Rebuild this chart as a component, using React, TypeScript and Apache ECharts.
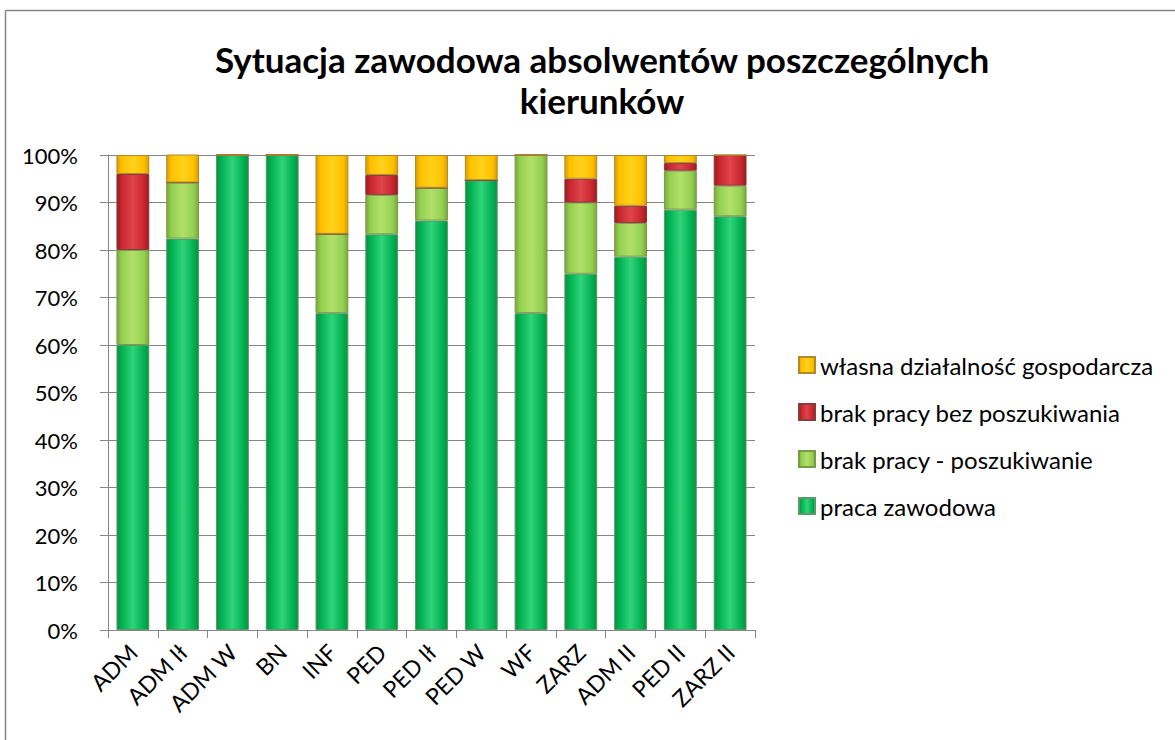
import React, { useEffect, useRef } from "react";
import * as echarts from "echarts";

const categories = ["ADM", "ADM Ił", "ADM W", "BN", "INF", "PED", "PED Ił", "PED W", "WF", "ZARZ", "ADM II", "PED II", "ZARZ II"];
const pracaZawodowa = [60, 82.4, 100, 100, 66.7, 83.3, 86.2, 94.7, 66.7, 75, 78.6, 88.5, 87.1];
const brakPoszukiwanie = [20, 11.8, 0, 0, 16.7, 8.3, 6.9, 0, 33.3, 15, 7.1, 8.2, 6.45];
const brakBezPoszukiwania = [16, 0, 0, 0, 0, 4.2, 0, 0, 0, 5, 3.6, 1.6, 6.45];
const wlasnaDzialalnosc = [4, 5.9, 0, 0, 16.6, 4.2, 6.9, 5.3, 0, 5, 10.7, 1.7, 0];
const yTicks = [0, 10, 20, 30, 40, 50, 60, 70, 80, 90, 100];

const FONT = "Lato, 'Open Sans', sans-serif";

function grad(light: string, mid: string, dark: string) {
  return new echarts.graphic.LinearGradient(0, 0, 1, 0, [
    { offset: 0, color: dark },
    { offset: 0.15, color: mid },
    { offset: 0.5, color: light },
    { offset: 0.85, color: mid },
    { offset: 1, color: dark },
  ]);
}

export default function App() {
  const ref = useRef<HTMLDivElement>(null);
  useEffect(() => {
    if (!ref.current) return;
    const chart = echarts.init(ref.current, null, { renderer: "svg" });
    const mk = (name: string, data: number[], color: any, border: string) => ({
      name,
      type: "bar",
      stack: "total",
      data,
      barCategoryGap: "34%",
      itemStyle: { color, borderColor: border, borderWidth: 1 },
    });
    chart.setOption({
      animation: false,
      backgroundColor: "#ffffff",
      title: {
        text: "Sytuacja zawodowa absolwentów poszczególnych\nkierunków",
        left: 597,
        textAlign: "center",
        top: 33,
        textStyle: { fontFamily: FONT, fontWeight: "bold", fontSize: 35, lineHeight: 41, color: "#000" },
      },
      graphic: [
        { type: "line", shape: { x1: 5.5, y1: 10.5, x2: 1175, y2: 10.5 }, style: { stroke: "#868686", lineWidth: 1.5 } },
        { type: "line", shape: { x1: 5.5, y1: 10.5, x2: 5.5, y2: 740 }, style: { stroke: "#868686", lineWidth: 1.5 } },
      ],
      legend: {
        orient: "vertical",
        left: 793,
        top: 348,
        itemGap: 23,
        itemWidth: 16,
        itemHeight: 16,
        icon: "rect",
        data: ["własna działalność gospodarcza", "brak pracy bez poszukiwania", "brak pracy - poszukiwanie", "praca zawodowa"],
        textStyle: { fontFamily: FONT, fontSize: 24, lineHeight: 24, color: "#000", padding: [0, 0, 0, 0] },
      },
      grid: { left: 108, right: 420, top: 155, bottom: 110 },
      xAxis: {
        type: "category",
        data: categories,
        axisLine: { lineStyle: { color: "#868686" } },
        axisTick: { show: true, length: 8, lineStyle: { color: "#868686" } },
        axisLabel: { rotate: 45, fontFamily: FONT, fontSize: 23, color: "#000", margin: 18, interval: 0 },
      },
      yAxis: {
        type: "value",
        min: 0,
        max: 100,
        interval: 10,
        axisLine: { show: true, lineStyle: { color: "#868686" } },
        axisTick: { show: true, length: 8, lineStyle: { color: "#868686" } },
        splitLine: { lineStyle: { color: "#868686" } },
        axisLabel: {
          fontFamily: FONT,
          fontSize: 22,
          color: "#000",
          margin: 30,
          formatter: (v: number) => (yTicks.includes(v) ? v + "%" : ""),
        },
      },
      series: [
        mk("praca zawodowa", pracaZawodowa, grad("#2fd479", "#00b050", "#0a9040"), "#5a9a6a"),
        mk("brak pracy - poszukiwanie", brakPoszukiwanie, grad("#b2e06a", "#92d050", "#7aa63c"), "#7a9a4a"),
        mk("brak pracy bez poszukiwania", brakBezPoszukiwania, grad("#e0444c", "#c8262e", "#9a1a20"), "#8a3a3a"),
        mk("własna działalność gospodarcza", wlasnaDzialalnosc, grad("#ffd21a", "#ffc000", "#d99e00"), "#b08a2a"),
      ],
    });
    return () => chart.dispose();
  }, []);
  return <div ref={ref} style={{ position: "fixed", left: 0, top: 0, width: 1175, height: 740 }} />;
}
